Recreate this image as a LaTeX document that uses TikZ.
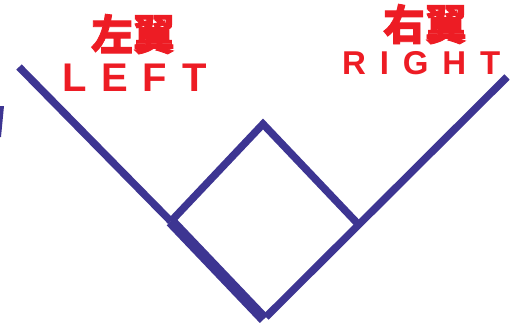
\documentclass[tikz,border=0pt]{standalone}
\usepackage{fontspec}
\setmainfont{Liberation Sans}
\newfontfamily\cjk[FakeBold=2]{Noto Sans CJK TC}
\newfontfamily\leftlat[LetterSpace=37]{Liberation Sans}
\newfontfamily\rightlat[LetterSpace=42]{Liberation Sans}
\usetikzlibrary{calc}
\definecolor{fieldblue}{RGB}{61,53,146}
\definecolor{labelred}{RGB}{237,28,36}
\tikzset{
  fieldline/.style={draw=fieldblue, line width=7.5pt, line cap=butt, line join=miter},
  thickline/.style={draw=fieldblue, line width=11.5pt, line cap=butt},
  cjklabel/.style={text=labelred, inner sep=0pt, anchor=base, font=\cjk\bfseries\fontsize{42}{42}\selectfont},
  latlabel/.style={text=labelred, inner sep=0pt, anchor=base west}
}
\begin{document}
\begin{tikzpicture}[x=1pt,y=-1pt]
\useasboundingbox (0,0) rectangle (513,324);
% points
\coordinate (A) at (19,67);
\coordinate (H) at (264,316);
\coordinate (B) at (507,77);
\coordinate (T) at (263,124);
\coordinate (LB) at ($(H)!0.38!(A)$);
\coordinate (RB) at ($(H)!0.386!(B)$);
% foul lines and diamond
\draw[fieldline] (A) -- (LB);
\draw[thickline] (LB) -- ($(H)+(0,3)$);
\draw[fieldline] ($(H)+(2,1)$) -- (B);
\draw[fieldline] (LB) -- (T) -- (RB);
% small fragment at left edge
\fill[fieldblue] (0,106) -- (4,106) -- (1,137) -- (0,137) -- cycle;
% labels
\node[cjklabel] (lz) at (133,50) {左翼};
\node[cjklabel] (rz) at (425,40) {右翼};
\node[latlabel, font=\leftlat\bfseries\fontsize{40}{40}\selectfont] (lt) at (62,91) {LEFT};
\node[latlabel, font=\rightlat\bfseries\fontsize{33}{33}\selectfont] (rt) at (342,74) {RIGHT};
\end{tikzpicture}
\end{document}
